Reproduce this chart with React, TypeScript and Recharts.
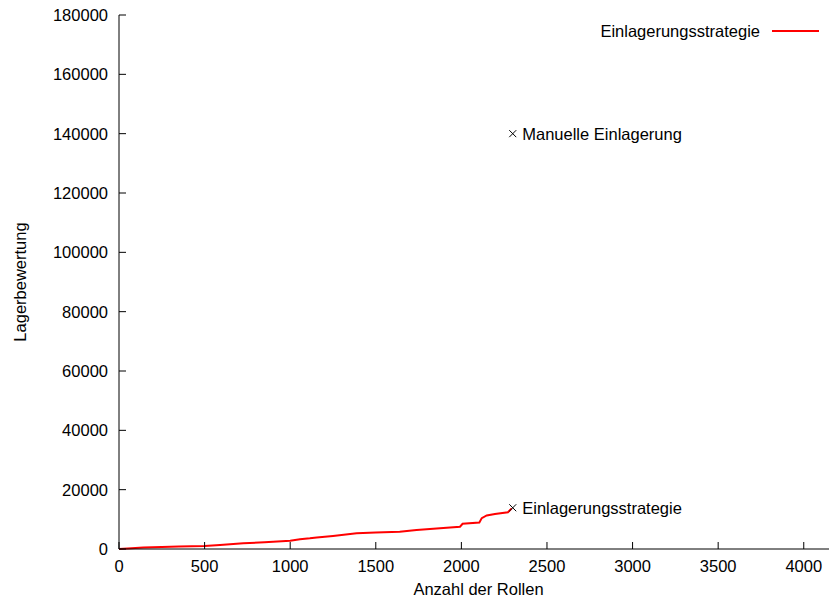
import React from 'react'
import { ComposedChart, Line, Scatter, XAxis, YAxis, LabelList } from 'recharts'

const FONT = '"Liberation Sans", Arial, Helvetica, sans-serif'
const FS = 16.5
const RED = '#ff0000'

// Anzahl der Rollen vs. Lagerbewertung
const rolls = [0, 50, 142, 250, 350, 500, 590, 726, 850, 1000, 1057, 1115, 1155, 1250, 1388, 1500, 1640, 1738, 1875, 1992, 2007, 2105, 2119, 2148, 2196, 2272, 2294]
const valuation = [0, 200, 500, 700, 850, 1000, 1350, 1900, 2300, 2800, 3260, 3600, 3900, 4400, 5300, 5600, 5800, 6400, 7000, 7500, 8500, 8900, 10400, 11300, 11800, 12400, 13700]

const markerRolls = [2300, 2300]
const markerValues = [140000, 13900]
const markerLabels = ['Manuelle Einlagerung', 'Einlagerungsstrategie']

const xTicks = [0, 500, 1000, 1500, 2000, 2500, 3000, 3500, 4000]
const yTicks = [0, 20000, 40000, 60000, 80000, 100000, 120000, 140000, 160000, 180000]

const lineData = rolls.map((x, i) => ({ x, y: valuation[i] }))
const markerData = markerRolls.map((x, i) => ({ x, y: markerValues[i], label: markerLabels[i] }))

const TICK_GAP = 11
const TICK_LEN = 7

function LeftTick({ x, y, payload }: any) {
  return (
    <g>
      <line x1={x + TICK_GAP} y1={y} x2={x + TICK_GAP + TICK_LEN} y2={y} stroke="#000" />
      <text x={x} y={y} dy="0.355em" textAnchor="end" fontSize={FS} fontFamily={FONT} fill="#000">
        {payload.value}
      </text>
    </g>
  )
}

function BottomTick({ x, y, payload }: any) {
  return (
    <g>
      <line x1={x} y1={y - TICK_GAP} x2={x} y2={y - TICK_GAP - TICK_LEN} stroke="#000" />
      <text x={x} y={y} dy="0.71em" textAnchor="middle" fontSize={FS} fontFamily={FONT} fill="#000">
        {payload.value}
      </text>
    </g>
  )
}

function TopTick({ x, y }: any) {
  return <line x1={x} y1={y} x2={x} y2={y + TICK_LEN} stroke="#000" />
}

function Cross({ cx, cy }: any) {
  const s = 3.5
  return (
    <path d={`M${cx - s},${cy - s}L${cx + s},${cy + s}M${cx - s},${cy + s}L${cx + s},${cy - s}`} stroke="#000" strokeWidth={1} />
  )
}

export default function App() {
  return (
    <div style={{ position: 'absolute', left: 0, top: 0, width: 829, height: 601, overflow: 'hidden', background: '#fff', fontFamily: FONT }}>
      <ComposedChart width={850} height={601} data={lineData} margin={{ top: 15, right: 12, bottom: 0, left: 0 }}>
        <XAxis
          dataKey="x"
          type="number"
          domain={[0, 4200]}
          ticks={xTicks}
          tickSize={0}
          tickMargin={TICK_GAP}
          tick={<BottomTick />}
          axisLine={{ stroke: '#000' }}
          height={52}
          label={{ value: 'Anzahl der Rollen', position: 'insideBottom', offset: 6, fontSize: FS, fontFamily: FONT, fill: '#000' }}
        />
        <XAxis
          xAxisId="top"
          dataKey="x"
          type="number"
          orientation="top"
          domain={[0, 4200]}
          ticks={xTicks}
          tickSize={0}
          tickMargin={0}
          tick={<TopTick />}
          axisLine={{ stroke: '#000' }}
          height={0}
        />
        <YAxis
          type="number"
          domain={[0, 180000]}
          ticks={yTicks}
          tickSize={0}
          tickMargin={TICK_GAP}
          tick={<LeftTick />}
          axisLine={{ stroke: '#000' }}
          width={119}
          label={{ value: 'Lagerbewertung', angle: -90, position: 'insideLeft', offset: 20, fontSize: FS, fontFamily: FONT, fill: '#000', style: { textAnchor: 'middle' } }}
        />
        <Line type="linear" dataKey="y" stroke={RED} strokeWidth={2} dot={false} isAnimationActive={false} />
        <Scatter data={markerData} dataKey="y" shape={<Cross />} isAnimationActive={false}>
          <LabelList dataKey="label" position="right" offset={5} fontSize={FS} fontFamily={FONT} fill="#000" />
        </Scatter>
      </ComposedChart>
      <div style={{ position: 'absolute', top: 21, left: 560, width: 259, display: 'flex', alignItems: 'center', justifyContent: 'flex-end', fontSize: FS, lineHeight: '20px', color: '#000' }}>
        <span>Einlagerungsstrategie</span>
        <span style={{ display: 'inline-block', width: 47, height: 2, background: RED, marginLeft: 12 }} />
      </div>
    </div>
  )
}
